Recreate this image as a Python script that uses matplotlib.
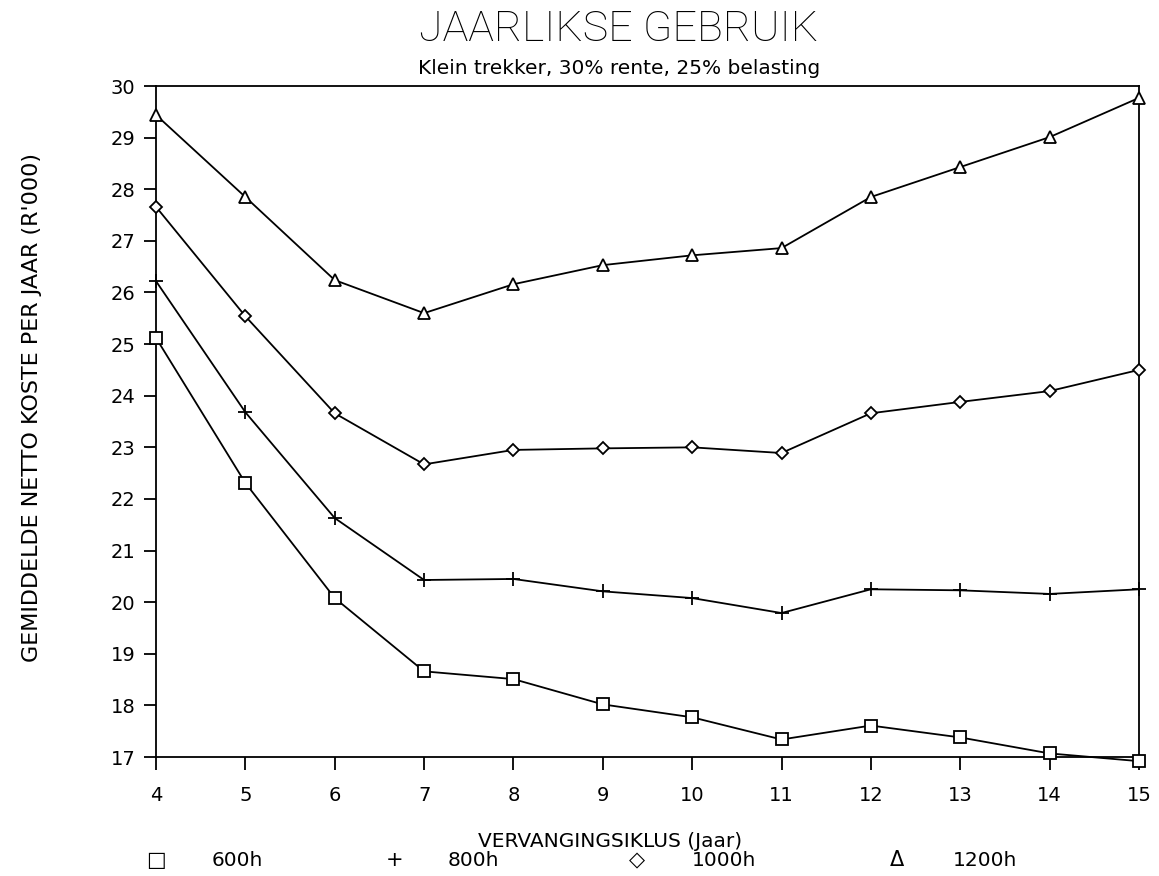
import matplotlib.pyplot as plt

jare = [4, 5, 6, 7, 8, 9, 10, 11, 12, 13, 14, 15]
h600 = [25.12, 22.31, 20.08, 18.66, 18.51, 18.02, 17.77, 17.34, 17.61, 17.38, 17.07, 16.92]
h800 = [26.22, 23.68, 21.63, 20.43, 20.45, 20.21, 20.08, 19.79, 20.25, 20.23, 20.16, 20.25]
h1000 = [27.66, 25.54, 23.66, 22.67, 22.95, 22.98, 23.00, 22.89, 23.66, 23.88, 24.09, 24.50]
h1200 = [29.44, 27.85, 26.24, 25.60, 26.16, 26.53, 26.72, 26.86, 27.85, 28.43, 29.01, 29.77]
x_etikette = ['4', '5', '6', '7', '8', '\u0039', '10', '11', '12', '13', '14', '15']
y_ticks = list(range(17, 31))

reekse = [('600h', h600, 's', 9), ('800h', h800, '+', 10),
          ('1000h', h1000, 'D', 6), ('1200h', h1200, '^', 9)]

fig = plt.figure(figsize=(11.59, 8.76), dpi=100)
ax = fig.add_axes([0.1346, 0.1358, 0.8481, 0.766])

for naam, y, m, ms in reekse:
    ax.plot(jare, y, color='black', lw=1.3, marker=m, ms=ms,
            mfc='white', mec='black', mew=1.3, clip_on=False, zorder=3)

ax.set_xlim(4, 15)
ax.set_ylim(17, 30)
ax.set_xticks(jare)
ax.set_xticklabels(x_etikette)
ax.set_yticks(y_ticks)
ax.tick_params(direction='out', length=9, width=1.3, labelsize=14, pad=6)
ax.tick_params(axis='x', pad=12)
for s in ax.spines.values():
    s.set_linewidth(1.3)

fig.text(0.534, 0.966, 'JAARLIKSE GEBRUIK', ha='center', va='center',
         fontsize=31, fontweight='light', family=['Roboto', 'DejaVu Sans'])
fig.text(0.534, 0.922, 'Klein trekker, 30% rente, 25% belasting', ha='center',
         va='center', fontsize=14.5)
fig.text(0.028, 0.535, "GEMIDDELDE NETTO KOSTE PER JAAR (R'000)", rotation=90,
         ha='center', va='center', fontsize=16)
fig.text(0.526, 0.039, 'VERVANGINGSIKLUS (Jaar)', ha='center', va='center',
         fontsize=14.5)

simbole = ['\u25a1', '+', '\u25c7', '\u0394']
sim_x = [156, 395, 637, 897]
teks_x = [212, 448, 692, 953]
for i, (naam, y, m, ms) in enumerate(reekse):
    fig.text(sim_x[i] / 1159, 0.018, simbole[i], ha='center', va='center', fontsize=15)
    fig.text(teks_x[i] / 1159, 0.018, naam, ha='left', va='center', fontsize=14.5)

plt.savefig('out.png', dpi=100)
